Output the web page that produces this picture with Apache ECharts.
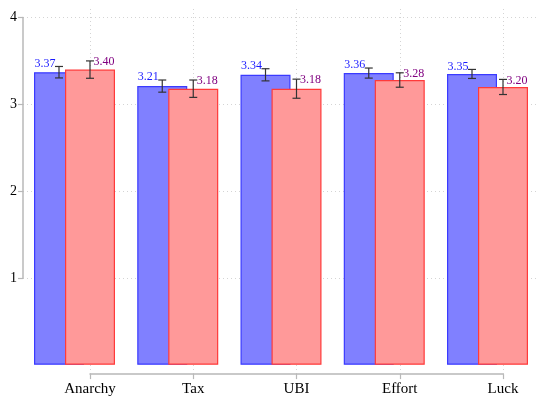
<!DOCTYPE html>
<html>
<head>
<meta charset="utf-8">
<script src="https://cdn.jsdelivr.net/npm/echarts@6/dist/echarts.min.js"></script>
<style>
  html, body { margin: 0; padding: 0; background: #fff; }
  #chart { width: 536px; height: 400px; }
</style>
</head>
<body>
<div id="chart"></div>
<script>
// Categories and group means with half-widths of the confidence intervals
var categories = ['Anarchy', 'Tax', 'UBI', 'Effort', 'Luck'];
var firstMeans = [3.37, 3.21, 3.34, 3.36, 3.35];
var secondMeans = [3.40, 3.18, 3.18, 3.28, 3.20];
var firstErr = [0.066, 0.070, 0.070, 0.058, 0.052];
var secondErr = [0.100, 0.100, 0.110, 0.083, 0.087];
var yTicks = [1, 2, 3, 4];

var FONT = 'Liberation Serif';
var BAR_W = 50;
var GAP_PX = -19;                 // bars overlap
var SHIFT = BAR_W + GAP_PX;       // distance between the two bar centres

var chart = echarts.init(document.getElementById('chart'), null, { renderer: 'canvas' });

function errorItem(offset, labelColor, side) {
  return function (params, api) {
    var cat = api.value(0), mean = api.value(1), err = api.value(2);
    var top = api.coord([cat, mean + err]);
    var bot = api.coord([cat, mean - err]);
    var x = top[0] + offset;
    var cap = 4;
    var ls = { stroke: '#333', lineWidth: 1.2 };
    var label = side === 'left'
      ? { type: 'text', x: x - 3.5, y: top[1] - 3,
          style: { text: mean.toFixed(2), fill: labelColor, font: '12px "' + FONT + '"',
                   textAlign: 'right', textVerticalAlign: 'middle' } }
      : { type: 'text', x: x + 3.5, y: top[1] + 1,
          style: { text: mean.toFixed(2), fill: labelColor, font: '12px "' + FONT + '"',
                   textAlign: 'left', textVerticalAlign: 'middle' } };
    return {
      type: 'group',
      children: [
        { type: 'line', shape: { x1: x, y1: top[1], x2: x, y2: bot[1] }, style: ls },
        { type: 'line', shape: { x1: x - cap, y1: top[1], x2: x + cap, y2: top[1] }, style: ls },
        { type: 'line', shape: { x1: x - cap, y1: bot[1], x2: x + cap, y2: bot[1] }, style: ls },
        label
      ]
    };
  };
}

var hiddenAxis = {
  show: false,
  axisLine: { show: false }, axisTick: { show: false },
  axisLabel: { show: false }, splitLine: { show: false }
};

var option = {
  animation: false,
  backgroundColor: '#fff',
  grid: [
    // y axis with horizontal grid lines (axis line spans 1..4 only)
    { left: 23, right: 0, top: 17.5, bottom: 122 },
    // bars
    { left: 90, right: 33, top: 17.5, bottom: 35.2 },
    // vertical dotted grid lines at the category positions
    { left: 90, right: 33, top: 9, bottom: 26 }
  ],
  xAxis: [
    Object.assign({ gridIndex: 0, type: 'value', min: 0, max: 1 }, hiddenAxis),
    {
      gridIndex: 1, type: 'category', data: categories, boundaryGap: false,
      offset: 9.3,
      axisLine: { onZero: false, lineStyle: { color: '#b8b8b8', width: 1.5 } },
      axisTick: { length: 5, lineStyle: { color: '#b8b8b8', width: 1.2 } },
      axisLabel: { fontFamily: FONT, fontSize: 15, color: '#000', margin: 7, interval: 0 },
      splitLine: { show: false }
    },
    {
      gridIndex: 2, type: 'category', data: categories, boundaryGap: false,
      axisLine: { show: false }, axisTick: { show: false }, axisLabel: { show: false },
      splitLine: { show: true, interval: 0, lineStyle: { color: '#d4d4d4', type: [1, 3], width: 1 } }
    }
  ],
  yAxis: [
    {
      gridIndex: 0, type: 'value', min: yTicks[0], max: yTicks[yTicks.length - 1], interval: 1,
      axisLine: { show: true, onZero: false, lineStyle: { color: '#b8b8b8', width: 1.5 } },
      axisTick: { show: true, length: 5, lineStyle: { color: '#b8b8b8', width: 1.2 } },
      axisLabel: { fontFamily: FONT, fontSize: 14, color: '#000', margin: 6 },
      splitLine: { show: true, lineStyle: { color: '#d4d4d4', type: [1, 3], width: 1 } }
    },
    Object.assign({ gridIndex: 1, type: 'value', min: 0, max: 4 }, hiddenAxis),
    Object.assign({ gridIndex: 2, type: 'value', min: 0, max: 1 }, hiddenAxis)
  ],
  series: [
    {
      name: 'first', type: 'bar', xAxisIndex: 1, yAxisIndex: 1,
      data: firstMeans, barWidth: BAR_W, barGap: (GAP_PX / BAR_W * 100) + '%',
      clip: false, silent: true,
      itemStyle: { color: '#8080ff', borderColor: '#3a3aff', borderWidth: 1.2 }
    },
    {
      name: 'second', type: 'bar', xAxisIndex: 1, yAxisIndex: 1,
      data: secondMeans, barWidth: BAR_W, barGap: (GAP_PX / BAR_W * 100) + '%',
      clip: false, silent: true,
      itemStyle: { color: '#ff9999', borderColor: '#ff3a3a', borderWidth: 1.2 }
    },
    {
      // empty slot so the second group sits centred on its category
      name: 'spacer', type: 'bar', xAxisIndex: 1, yAxisIndex: 1,
      data: categories.map(function () { return 0; }),
      barWidth: BAR_W, barGap: (GAP_PX / BAR_W * 100) + '%',
      clip: false, silent: true,
      itemStyle: { color: 'rgba(0,0,0,0)', borderWidth: 0 }
    },
    {
      type: 'custom', xAxisIndex: 1, yAxisIndex: 1, clip: false, silent: true, z: 5,
      renderItem: errorItem(-SHIFT, '#1a1aff', 'left'),
      data: categories.map(function (c, i) { return [i, firstMeans[i], firstErr[i]]; })
    },
    {
      type: 'custom', xAxisIndex: 1, yAxisIndex: 1, clip: false, silent: true, z: 5,
      renderItem: errorItem(0, '#800080', 'right'),
      data: categories.map(function (c, i) { return [i, secondMeans[i], secondErr[i]]; })
    }
  ]
};

chart.setOption(option);
</script>
</body>
</html>
